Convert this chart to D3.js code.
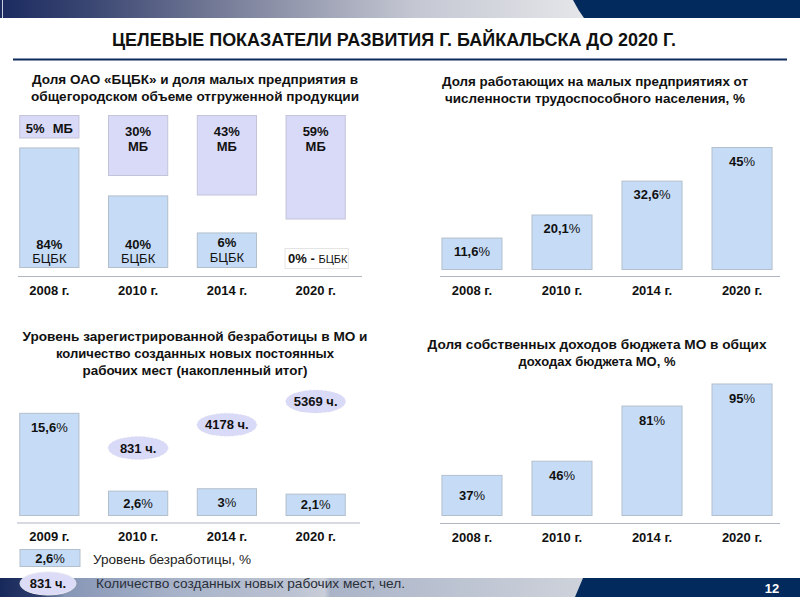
<!DOCTYPE html>
<html><head><meta charset="utf-8">
<script src="https://cdn.jsdelivr.net/npm/d3@7/dist/d3.min.js"></script>
<style>
html,body{margin:0;padding:0;background:#fff;}
svg{display:block;font-family:"Liberation Sans",Arial,sans-serif;}
</style></head>
<body>
<svg id="c" width="800" height="600"></svg>
<script>
// ---------- DATA ----------
const years1 = ["2008 г.", "2010 г.", "2014 г.", "2020 г."];
const mbShare = [5, 30, 43, 59];          // доля малых предприятий, %
const bcbkShare = [84, 40, 6, 0];         // доля ОАО «БЦБК», %
const years2 = ["2008 г.", "2010 г.", "2014 г.", "2020 г."];
const smallEmployment = [11.6, 20.1, 32.6, 45];
const years3 = ["2009 г.", "2010 г.", "2014 г.", "2020 г."];
const unemployment = [15.6, 2.6, 3, 2.1];
const newJobs = [null, 831, 4178, 5369];
const years4 = ["2008 г.", "2010 г.", "2014 г.", "2020 г."];
const ownIncome = [37, 46, 81, 95];
const mainTitle = "ЦЕЛЕВЫЕ ПОКАЗАТЕЛИ РАЗВИТИЯ Г. БАЙКАЛЬСКА ДО 2020 Г.";
const title1 = ["Доля ОАО «БЦБК» и доля малых предприятия в", "общегородском объеме отгруженной продукции"];
const title2 = ["Доля работающих на малых  предприятиях от", "численности трудоспособного населения, %"];
const title3 = ["Уровень зарегистрированной безработицы в МО и", "количество созданных новых постоянных", "рабочих мест (накопленный итог)"];
const title4 = ["Доля собственных доходов бюджета МО в общих", "доходах бюджета МО, %"];
const legendLabels = ["Уровень безработицы, %", "Количество созданных новых рабочих мест, чел."];
const pageNumber = "12";

// ---------- STYLE ----------
const BLUE = "#c6dcf6", BLUE_STROKE = "#b3bfcc";
const LAV = "#d9d9f8", LAV_STROKE = "#c3c3d9";
const AXIS = "#aeb6c2";
const NAVY = "#032a5c";
const NARROW = "'Liberation Sans Narrow','Arial Narrow','Liberation Sans',sans-serif";
const locale = d3.formatLocale({decimal: ",", thousands: "", grouping: [3], currency: ["", ""]});
const fmt = locale.format("~");
const svg = d3.select("#c");
const defs = svg.append("defs");

// ---------- BANNERS ----------
const gTop = defs.append("linearGradient").attr("id", "gTop").attr("x1", 0).attr("x2", 1);
[[0, "#1b2b60"], [0.15, "#3a4672"], [0.4, "#7c829c"], [0.7, "#c4c7d2"], [1, "#e6e7ea"]]
  .forEach(([o, c]) => gTop.append("stop").attr("offset", o).attr("stop-color", c));
svg.append("rect").attr("x", 0).attr("y", 0).attr("width", 590).attr("height", 18).attr("fill", "url(#gTop)");
svg.append("path").attr("d", "M573,0 L800,0 L800,18 L584,18 Q578,10 573,0 Z").attr("fill", NAVY);
svg.append("line").attr("x1", 2.5).attr("x2", 2.5).attr("y1", 0).attr("y2", 18).attr("stroke", "#c8d0e0").attr("stroke-width", 1);

const gBot = defs.append("linearGradient").attr("id", "gBot").attr("x1", 0).attr("x2", 1);
[[0, "#17295a"], [0.07, "#2f3f6e"], [0.11, "#8796b6"], [0.3, "#a8b3c9"], [0.5, "#bcc3d2"], [0.55, "#c9ced8"], [0.56, "#aab4c8"], [1, "#cfd3db"]]
  .forEach(([o, c]) => gBot.append("stop").attr("offset", o).attr("stop-color", c));
svg.append("rect").attr("x", 0).attr("y", 578).attr("width", 590).attr("height", 19).attr("fill", "url(#gBot)");
svg.append("path").attr("d", "M583,578 L800,578 L800,597 L575,597 Z").attr("fill", NAVY);
svg.append("text").attr("x", 772).attr("y", 593).attr("text-anchor", "middle")
  .attr("font-size", 13).attr("font-weight", "bold").attr("fill", "#fff").text(pageNumber);

// ---------- MAIN TITLE ----------
svg.append("text").attr("x", 394).attr("y", 46).attr("text-anchor", "middle")
  .attr("font-family", NARROW)
  .attr("font-size", 18).attr("font-weight", "bold").attr("fill", "#111")
  .attr("textLength", 564).attr("lengthAdjust", "spacingAndGlyphs").text(mainTitle);
svg.append("line").attr("x1", 13).attr("x2", 787).attr("y1", 59.5).attr("y2", 59.5)
  .attr("stroke", "#0d2a5a").attr("stroke-width", 2);

// ---------- helpers ----------
function chartTitle(lines, cx, y0, widths) {
  lines.forEach((t, i) => {
    svg.append("text").attr("x", cx).attr("y", y0 + i * 17).attr("text-anchor", "middle")
      .attr("font-size", 13).attr("font-weight", "bold").attr("fill", "#111")
      .attr("textLength", widths[i]).attr("lengthAdjust", "spacingAndGlyphs").text(t);
  });
}
function pctLabel(g, x, y, v, size) {
  const t = g.append("text").attr("x", x).attr("y", y).attr("text-anchor", "middle")
    .attr("font-size", size || 13).attr("fill", "#111");
  t.append("tspan").attr("font-weight", "bold").text(fmt(v));
  t.append("tspan").text("%");
  return t;
}
function categoryAxis(x, cats, yLine, xl1, xl2, yText) {
  svg.append("line").attr("x1", xl1).attr("x2", xl2).attr("y1", yLine).attr("y2", yLine)
    .attr("stroke", AXIS).attr("stroke-width", 1);
  cats.forEach((c) => {
    svg.append("text").attr("x", x(c) + x.bandwidth() / 2).attr("y", yText).attr("text-anchor", "middle")
      .attr("font-size", 13).attr("font-weight", "bold").attr("fill", "#111").text(c);
  });
}

// ---------- CHART 1 ----------
{
  chartTitle(title1, 195, 84, [326, 328]);
  const x = d3.scaleBand().domain(years1).range([5, 360]).paddingInner(0.333).paddingOuter(0.166);
  const top = 115.5, bottom = 267.5;
  const hUp = d3.scaleLinear().domain([0, 100]).range([15, 165]);
  const hLow = d3.scaleLinear().domain([0, 100]).range([28, 137]);
  const g = svg.append("g");
  years1.forEach((c, i) => {
    const x0 = x(c), w = x.bandwidth(), cx = x0 + w / 2;
    // МБ (upper, hanging from top)
    const hu = hUp(mbShare[i]);
    g.append("rect").attr("x", x0).attr("y", top).attr("width", w).attr("height", hu)
      .attr("fill", LAV).attr("stroke", LAV_STROKE);
    if (i === 0) {
      const t = g.append("text").attr("x", cx).attr("y", top + 17).attr("text-anchor", "middle")
        .attr("font-size", 13).attr("font-weight", "bold").attr("fill", "#111");
      t.append("tspan").text(mbShare[i] + "%");
      t.append("tspan").attr("dx", 8).text("МБ");
    } else {
      g.append("text").attr("x", cx).attr("y", top + 20).attr("text-anchor", "middle")
        .attr("font-size", 13).attr("font-weight", "bold").attr("fill", "#111").text(mbShare[i] + "%");
      g.append("text").attr("x", cx).attr("y", top + 35).attr("text-anchor", "middle")
        .attr("font-size", 13).attr("font-weight", "bold").attr("fill", "#111").text("МБ");
    }
    // БЦБК (lower)
    if (bcbkShare[i] > 0) {
      const hl = hLow(bcbkShare[i]);
      g.append("rect").attr("x", x0).attr("y", bottom - hl).attr("width", w).attr("height", hl)
        .attr("fill", BLUE).attr("stroke", BLUE_STROKE);
      g.append("text").attr("x", cx).attr("y", bottom - (hl < 40 ? 21 : 19)).attr("text-anchor", "middle")
        .attr("font-size", 13).attr("font-weight", "bold").attr("fill", "#111").text(bcbkShare[i] + "%");
      g.append("text").attr("x", cx).attr("y", bottom - (hl < 40 ? 6 : 5)).attr("text-anchor", "middle")
        .attr("font-size", 13).attr("fill", "#111").text("БЦБК");
    } else {
      g.append("rect").attr("x", x0 - 1).attr("y", bottom - 19).attr("width", w + 4).attr("height", 20)
        .attr("fill", "#fff").attr("stroke", "#e4e4e4");
      const t = g.append("text").attr("x", x0 + 2).attr("y", bottom - 5).attr("fill", "#111").attr("font-size", 13);
      t.append("tspan").attr("font-weight", "bold").text(bcbkShare[i] + "%");
      t.append("tspan").attr("font-weight", "bold").text(" - ");
      t.append("tspan").attr("font-size", 11).text("БЦБК");
    }
  });
  categoryAxis(x, years1, 276.5, 18, 362, 295);
}

// ---------- CHART 2 ----------
{
  chartTitle(title2, 595, 86, [306, 300]);
  const x = d3.scaleBand().domain(years2).range([427, 787]).paddingInner(0.333).paddingOuter(0.166);
  const bottom = 269.5;
  const y = d3.scaleLinear().domain([0, 45]).range([bottom, 147.5]);
  const g = svg.append("g");
  years2.forEach((c, i) => {
    const v = smallEmployment[i];
    g.append("rect").attr("x", x(c)).attr("y", y(v)).attr("width", x.bandwidth()).attr("height", bottom - y(v))
      .attr("fill", BLUE).attr("stroke", BLUE_STROKE);
    pctLabel(g, x(c) + x.bandwidth() / 2, y(v) + 18, v);
  });
  categoryAxis(x, years2, 276.5, 440, 780, 295);
}

// ---------- CHART 3 ----------
{
  chartTitle(title3, 195, 341, [345, 278, 225]);
  const x = d3.scaleBand().domain(years3).range([5, 360]).paddingInner(0.333).paddingOuter(0.166);
  const bottom = 515.5;
  const h = d3.scaleLinear().domain([0, 100]).range([8.8, 607.3]);
  const g = svg.append("g");
  years3.forEach((c, i) => {
    const v = unemployment[i], hh = h(v);
    g.append("rect").attr("x", x(c)).attr("y", bottom - hh).attr("width", x.bandwidth()).attr("height", hh)
      .attr("fill", BLUE).attr("stroke", BLUE_STROKE);
    const ly = hh > 45 ? bottom - hh + 19 : bottom - hh / 2 + 4.5;
    pctLabel(g, x(c) + x.bandwidth() / 2, ly, v);
  });
  const jobCats = years3.filter((c, i) => newJobs[i] != null);
  const yj = d3.scalePoint().domain(jobCats).range([448, 401.5]);
  years3.forEach((c, i) => {
    if (newJobs[i] == null) return;
    const cx = x(c) + x.bandwidth() / 2, cy = yj(c);
    g.append("ellipse").attr("cx", cx).attr("cy", cy).attr("rx", 30).attr("ry", 11.5)
      .attr("fill", LAV).attr("stroke", "#e2e2ee").attr("stroke-dasharray", "1,3");
    g.append("text").attr("x", cx).attr("y", cy + 4.5).attr("text-anchor", "middle")
      .attr("font-size", 13).attr("font-weight", "bold").attr("fill", "#111").text(newJobs[i] + " ч.");
  });
  categoryAxis(x, years3, 523, 17, 360, 541);

  // legend
  const lg = svg.append("g");
  lg.append("rect").attr("x", 20).attr("y", 549.5).attr("width", 60).attr("height", 17)
    .attr("fill", BLUE).attr("stroke", BLUE_STROKE);
  pctLabel(lg, 50, 563, unemployment[1]);
  lg.append("text").attr("x", 93).attr("y", 564).attr("font-size", 13).attr("fill", "#222")
    .attr("font-family", NARROW)
    .attr("textLength", 158).attr("lengthAdjust", "spacingAndGlyphs").text(legendLabels[0]);
  lg.append("ellipse").attr("cx", 48).attr("cy", 583.5).attr("rx", 28).attr("ry", 11.5)
    .attr("fill", "#dcdcf8").attr("stroke", "#e8e8f0");
  lg.append("text").attr("x", 48).attr("y", 588).attr("text-anchor", "middle")
    .attr("font-size", 13).attr("font-weight", "bold").attr("fill", "#111").text(newJobs[1] + " ч.");
  lg.append("text").attr("x", 96).attr("y", 588).attr("font-size", 13).attr("fill", "#2a2f3a")
    .attr("font-family", NARROW)
    .attr("textLength", 309).attr("lengthAdjust", "spacingAndGlyphs").text(legendLabels[1]);
}

// ---------- CHART 4 ----------
{
  chartTitle(title4, 597, 349, [339, 157]);
  const x = d3.scaleBand().domain(years4).range([427, 787]).paddingInner(0.333).paddingOuter(0.166);
  const bottom = 515.5;
  const h = d3.scaleLinear().domain([0, 100]).range([-18.2, 139.4]);
  const g = svg.append("g");
  years4.forEach((c, i) => {
    const v = ownIncome[i], hh = h(v);
    g.append("rect").attr("x", x(c)).attr("y", bottom - hh).attr("width", x.bandwidth()).attr("height", hh)
      .attr("fill", BLUE).attr("stroke", BLUE_STROKE);
    const ly = hh > 45 ? bottom - hh + 19 : bottom - hh / 2 + 5;
    pctLabel(g, x(c) + x.bandwidth() / 2, ly, v);
  });
  categoryAxis(x, years4, 523.5, 440, 780, 542);
}
</script>
</body></html>
